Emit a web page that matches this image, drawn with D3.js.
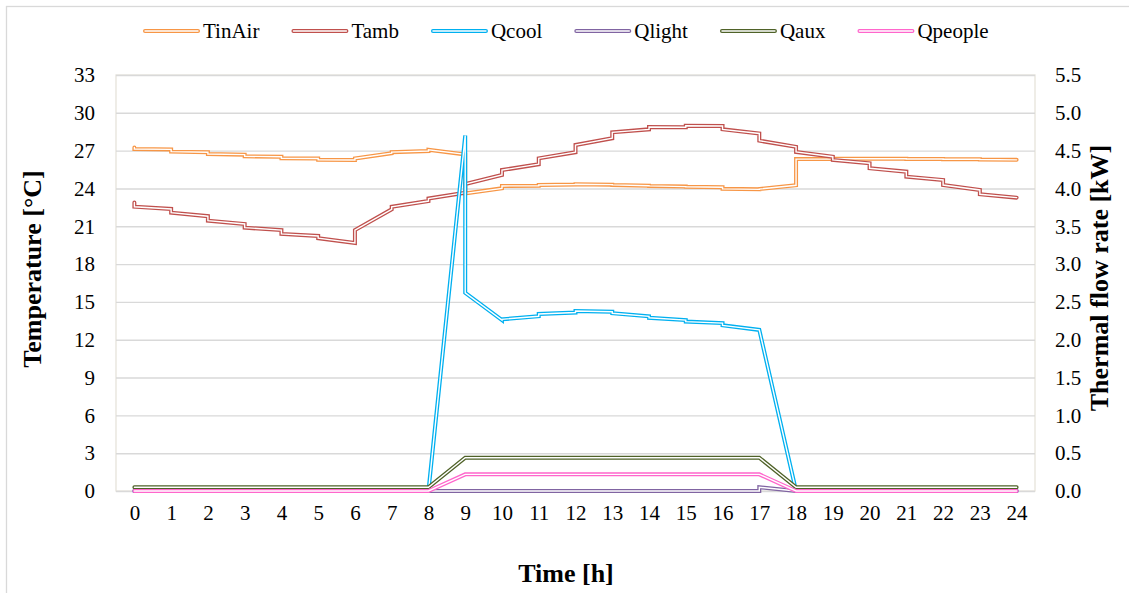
<!DOCTYPE html>
<html><head><meta charset="utf-8">
<script src="https://cdn.jsdelivr.net/npm/d3@7"></script>
<style>
body{margin:0;background:#fff;}
svg{display:block;}
svg text{font-family:"Liberation Serif","Times New Roman","DejaVu Serif",serif !important;fill:#000;}
</style>
</head><body>
<svg id="chart" width="1129" height="593"></svg>
<script>
// time points: each hour boundary appears twice (value arriving, value starting)
const hours = [0,0,1,1,2,2,3,3,4,4,5,5,6,6,7,7,8,8,9,9,10,10,11,11,12,12,13,13,14,14,15,15,16,16,17,17,18,18,19,19,20,20,21,21,22,22,23,23,24];
const xTicks = [0,1,2,3,4,5,6,7,8,9,10,11,12,13,14,15,16,17,18,19,20,21,22,23,24];
const tempTicks = [0,3,6,9,12,15,18,21,24,27,30,33];
const powerTicks = [0,0.5,1,1.5,2,2.5,3,3.5,4,4.5,5,5.5];

// temperatures [°C]
const tinAir = [27.25,27.13, 27.1,26.92, 26.87,26.73, 26.68,26.55, 26.52,26.4, 26.38,26.27, 26.26,26.38, 26.8,26.88, 26.97,27.07, 26.7,23.6, 24.01,24.2, 24.22,24.27, 24.31,24.33, 24.3,24.28, 24.22,24.2, 24.15,24.13, 24.1,23.97, 23.93,23.95, 24.25,26.33, 26.33,26.36, 26.36,26.36, 26.36,26.34, 26.34,26.32, 26.32,26.3, 26.27];
const tamb = [22.88,22.55, 22.37,22.08, 21.8,21.44, 21.18,20.89, 20.7,20.39, 20.23,20.05, 19.68,20.7, 22.35,22.55, 23.0,23.2, 23.66,24.35, 25.07,25.46, 25.92,26.39, 26.87,27.45, 27.98,28.45, 28.69,28.88, 28.85,28.97, 28.95,28.69, 28.36,27.79, 27.3,26.9, 26.52,26.26, 26.0,25.6, 25.33,24.93, 24.67,24.27, 23.88,23.54, 23.27];
// thermal flow rates [kW]
const qcool = [0,0, 0,0, 0,0, 0,0, 0,0, 0,0, 0,0, 0,0, 0,0, 4.7,2.62, 2.26,2.27, 2.31,2.34, 2.36,2.38, 2.37,2.35, 2.31,2.29, 2.26,2.24, 2.22,2.19, 2.13,2.13, 0,0, 0,0, 0,0, 0,0, 0,0, 0,0, 0];
const qlight = [0,0, 0,0, 0,0, 0,0, 0,0, 0,0, 0,0, 0,0, 0,0, 0,0, 0,0, 0,0, 0,0, 0,0, 0,0, 0,0, 0,0, 0,0.05, 0,0, 0,0, 0,0, 0,0, 0,0, 0,0, 0];
const qaux = [0.05,0.05, 0.05,0.05, 0.05,0.05, 0.05,0.05, 0.05,0.05, 0.05,0.05, 0.05,0.05, 0.05,0.05, 0.05,0.05, 0.44,0.44, 0.44,0.44, 0.44,0.44, 0.44,0.44, 0.44,0.44, 0.44,0.44, 0.44,0.44, 0.44,0.44, 0.44,0.44, 0.05,0.05, 0.05,0.05, 0.05,0.05, 0.05,0.05, 0.05,0.05, 0.05,0.05, 0.05];
const qpeople = [0,0, 0,0, 0,0, 0,0, 0,0, 0,0, 0,0, 0,0, 0,0, 0.22,0.22, 0.22,0.22, 0.22,0.22, 0.22,0.22, 0.22,0.22, 0.22,0.22, 0.22,0.22, 0.22,0.22, 0.22,0.22, 0,0, 0,0, 0,0, 0,0, 0,0, 0,0, 0];

const seriesNames = ["TinAir","Tamb","Qcool","Qlight","Qaux","Qpeople"];
const seriesData = [tinAir, tamb, qcool, qlight, qaux, qpeople];
const seriesAxis = ["left","left","right","right","right","right"];
const seriesColors = ["#F79646","#C0504D","#00B0F0","#8064A2","#4F6228","#FF66CC"];

const svg = d3.select("#chart");
const W = 1129, H = 593;
const plot = {left:116, top:75, right:1035, bottom:491};
const FONT = '"Liberation Serif","Times New Roman",serif';

// outer chart border
svg.append("rect").attr("x",6.5).attr("y",6.5).attr("width",W+20).attr("height",H+20)
  .attr("fill","#fff").attr("stroke","#d9d9d9").attr("stroke-width",1.3);

const x = d3.scaleLinear().domain([-0.5,24.5]).range([plot.left, plot.right]);
const yL = d3.scaleLinear().domain([0,33]).range([plot.bottom, plot.top]);
const yR = d3.scaleLinear().domain([0,5.5]).range([plot.bottom, plot.top]);

// plot area border
svg.append("rect").attr("x",plot.left).attr("y",plot.top)
  .attr("width",plot.right-plot.left).attr("height",plot.bottom-plot.top)
  .attr("fill","none").attr("stroke","#e6e3da").attr("stroke-width",1.3);

// gridlines
const grid = svg.append("g").attr("transform",`translate(${plot.left},0)`)
  .call(d3.axisLeft(yL).tickValues(tempTicks).tickSize(-(plot.right-plot.left)).tickFormat(""));
grid.select(".domain").remove();
grid.selectAll("line").attr("stroke","#d9d9d9").attr("stroke-width",1.4);

function styleAxis(g){
  g.attr("font-family",FONT).attr("font-size",21);
  g.select(".domain").remove();
  g.selectAll("text").attr("fill","#000");
}
// left axis labels
const ax = svg.append("g").attr("transform",`translate(${plot.left-21},0)`)
  .call(d3.axisLeft(yL).tickValues(tempTicks).tickSize(0).tickPadding(0));
styleAxis(ax);

// right axis labels
const axR = svg.append("g").attr("transform",`translate(${plot.right+20},0)`)
  .call(d3.axisRight(yR).tickValues(powerTicks).tickSize(0).tickPadding(0).tickFormat(d3.format(".1f")));
styleAxis(axR);

// x axis labels
const axX = svg.append("g").attr("transform",`translate(0,${plot.bottom+14})`)
  .call(d3.axisBottom(x).tickValues(xTicks).tickSize(0).tickPadding(0).tickFormat(d3.format("d")));
styleAxis(axX);
axX.selectAll("text").attr("dy","0.71em");

// titles
svg.append("text").attr("transform","translate(41,269) rotate(-90)").attr("text-anchor","middle")
  .attr("font-size",26).attr("font-weight","bold").text("Temperature [°C]");
svg.append("text").attr("transform","translate(1108,278) rotate(-90)").attr("text-anchor","middle")
  .attr("font-size",26).attr("font-weight","bold").text("Thermal flow rate [kW]");
svg.append("text").attr("x",566).attr("y",582).attr("text-anchor","middle")
  .attr("font-size",26).attr("font-weight","bold").text("Time [h]");

// lines (double style)
const lineGen = (scale) => d3.line().x((d,i)=>x(hours[i])).y(d=>scale(d));
const lines = svg.append("g");
seriesData.forEach((vals,k)=>{
  const sc = seriesAxis[k]==="left" ? yL : yR;
  const d = lineGen(sc)(vals);
  lines.append("path").attr("d",d).attr("fill","none").attr("stroke",seriesColors[k])
    .attr("stroke-width",4).attr("stroke-linejoin","miter").attr("stroke-linecap","round");
  lines.append("path").attr("d",d).attr("fill","none").attr("stroke","#fff")
    .attr("stroke-width",1.4).attr("stroke-linejoin","miter").attr("stroke-linecap","round");
});

// legend
const leg = svg.append("g");
let lx = 145;
const ly = 31;
seriesNames.forEach((name,k)=>{
  leg.append("line").attr("x1",lx).attr("x2",lx+53).attr("y1",ly).attr("y2",ly)
    .attr("stroke",seriesColors[k]).attr("stroke-width",4).attr("stroke-linecap","round");
  leg.append("line").attr("x1",lx).attr("x2",lx+53).attr("y1",ly).attr("y2",ly)
    .attr("stroke","#fff").attr("stroke-width",1.4).attr("stroke-linecap","round");
  const t = leg.append("text").attr("x",lx+58).attr("y",ly).attr("dy","0.35em")
    .attr("font-size",21).text(name);
  const w = t.node().getComputedTextLength();
  lx += 58 + w + 34;
});
</script>
</body></html>
